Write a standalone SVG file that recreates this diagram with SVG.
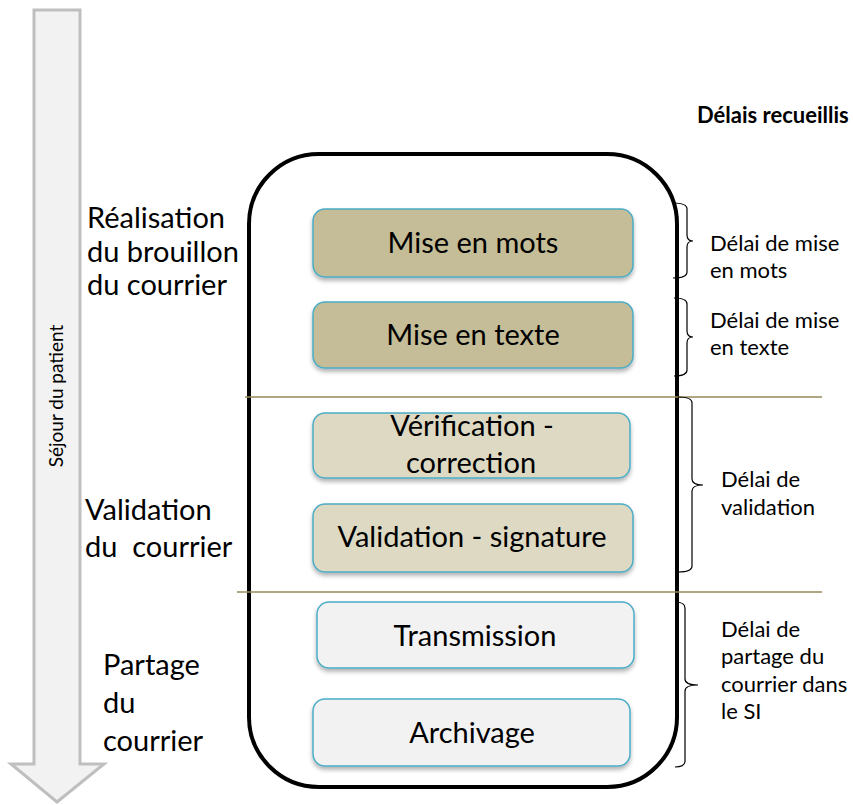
<svg xmlns="http://www.w3.org/2000/svg" width="853" height="805" viewBox="0 0 853 805">
<style>
text{font-family:Lato,"Liberation Sans",sans-serif;fill:#000}
.box{stroke:#4bacc6;stroke-width:1.5;filter:url(#sh)}
.bt{font-size:29px;text-anchor:middle}
.lbl{font-size:29px}
.dl{font-size:22px}
.sep{stroke:#948a54;stroke-width:1.5}
.brace{fill:none;stroke:#000;stroke-width:1.2}
</style>
<defs>
<filter id="sh" x="-10%" y="-20%" width="120%" height="150%">
<feDropShadow dx="0" dy="3" stdDeviation="2" flood-color="#000" flood-opacity="0.3"/>
</filter>
</defs>
<g id="arrow">
<path d="M34,10 H80 V764 H104 L57,802 L11,764 H34 Z" fill="#f2f2f2" stroke="#bfbfbf" stroke-width="3" stroke-linejoin="miter"/>
<text x="0" y="0" transform="translate(63,396) rotate(-90)" text-anchor="middle" style="font-size:19px">Séjour du patient</text>
</g>
<g id="container">
<rect x="249" y="154" width="428" height="633" rx="70" ry="70" fill="#fff" stroke="#000" stroke-width="4"/>
</g>
<g id="separators">
<line class="sep" x1="245" y1="397" x2="822" y2="397"/>
<line class="sep" x1="237" y1="592" x2="822" y2="592"/>
</g>
<g id="phase-labels">
<text class="lbl" x="87" y="228">Réalisation</text>
<text class="lbl" x="87" y="262">du brouillon</text>
<text class="lbl" x="87" y="295">du courrier</text>
<text class="lbl" x="85" y="520">Validation</text>
<text class="lbl" x="85" y="557" xml:space="preserve">du  courrier</text>
<text class="lbl" x="103" y="675">Partage</text>
<text class="lbl" x="103" y="713">du</text>
<text class="lbl" x="103" y="751">courrier</text>
</g>
<g id="n1"><rect class="box" x="313" y="209" width="320" height="68" rx="12" fill="#c4bd97"/><text class="bt" x="473" y="253">Mise en mots</text></g>
<g id="n2"><rect class="box" x="313" y="302" width="320" height="66" rx="12" fill="#c4bd97"/><text class="bt" x="473" y="345">Mise en texte</text></g>
<g id="n3"><rect class="box" x="313" y="413" width="317" height="65" rx="12" fill="#ddd9c3"/><text class="bt" x="472" y="436">Vérification -</text><text class="bt" x="471" y="473">correction</text></g>
<g id="n4"><rect class="box" x="313" y="504" width="320" height="68" rx="12" fill="#ddd9c3"/><text class="bt" x="472" y="547">Validation - signature</text></g>
<g id="n5"><rect class="box" x="317" y="602" width="317" height="66" rx="12" fill="#f2f2f2"/><text class="bt" x="475" y="646">Transmission</text></g>
<g id="n6"><rect class="box" x="313" y="699" width="317" height="67" rx="12" fill="#f2f2f2"/><text class="bt" x="472" y="743">Archivage</text></g>
<g id="connectors">
<path class="brace" d="M673,203 Q687,203 687,209 V235 Q687,241 693,241 Q687,241 687,247 V272 Q687,278 673,278"/>
<path class="brace" d="M674,298 Q687,298 687,304 V331 Q687,337 693,337 Q687,337 687,343 V370 Q687,376 674,376"/>
<path class="brace" d="M678,397 Q692,397 692,403 V479 Q692,485 703,485 Q692,485 692,491 V566 Q692,572 678,572"/>
<path class="brace" d="M675,602 Q685,602 685,608 V679 Q685,685 698,685 Q685,685 685,691 V761 Q685,767 675,767"/>
</g>
<g id="delays">
<text x="697" y="123" style="font-size:22px;font-weight:bold">Délais recueillis</text>
<text class="dl" x="710" y="251">Délai de mise</text>
<text class="dl" x="710" y="278">en mots</text>
<text class="dl" x="710" y="328">Délai de mise</text>
<text class="dl" x="710" y="355">en texte</text>
<text class="dl" x="721" y="487">Délai de</text>
<text class="dl" x="721" y="515">validation</text>
<text class="dl" x="721" y="637">Délai de</text>
<text class="dl" x="721" y="664">partage du</text>
<text class="dl" x="721" y="692">courrier dans</text>
<text class="dl" x="721" y="719">le SI</text>
</g>
</svg>
